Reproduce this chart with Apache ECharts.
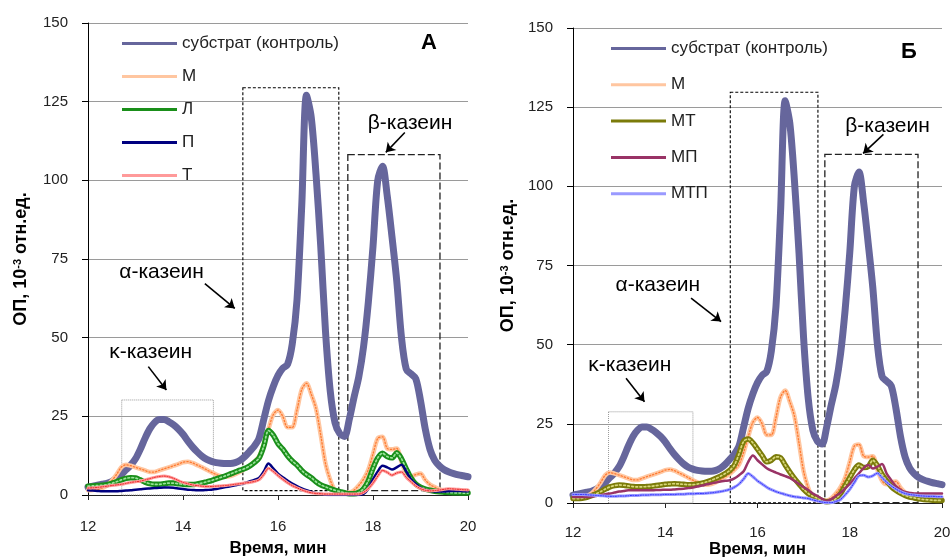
<!DOCTYPE html>
<html><head><meta charset="utf-8">
<script src="https://cdn.jsdelivr.net/npm/echarts@6.0.0/dist/echarts.min.js"></script>
<style>html,body{margin:0;padding:0;background:#fff}#c{width:952px;height:558px}</style>
</head><body><div id="c"></div>
<script>
// time grid (min), 12.0 .. 20.0 step 0.1
const times = Array.from({length: 81}, (_, i) => +(12 + i * 0.1).toFixed(1));
const xTicks = [12, 14, 16, 18, 20];
const yTicks = [0, 25, 50, 75, 100, 125, 150];

// substrate (control) – same in both panels
const control = [2.5,2.8,3.1,3.4,3.7,4.3,5.3,6.5,8.0,9.5,
  11.5,14.5,18.0,21.0,23.0,24.0,24.0,23.3,22.3,21.0,
  19.3,17.2,15.3,13.7,12.3,11.3,10.7,10.3,10.1,10.0,
  10.0,10.3,11.0,12.2,13.8,15.5,18.0,24.0,30.0,34.5,
  38.0,40.3,41.5,48.0,62.0,92.0,127.0,120.0,102.0,79.0,
  52.0,33.0,23.0,19.5,18.6,24.0,31.0,37.5,47.0,61.0,
  79.0,100.0,104.5,95.0,82.0,68.0,50.0,40.0,38.5,37.0,
  30.0,21.0,14.5,11.0,9.2,8.0,7.3,6.8,6.4,6.1,5.8];
// М – same in both panels
const seriesM = [1.5,1.6,1.8,2.2,3.0,4.5,6.5,8.8,9.6,9.3,
  8.8,8.3,7.8,7.3,7.3,7.8,8.3,8.8,9.3,9.8,
  10.4,10.6,10.2,9.5,8.8,8.0,7.2,6.5,6.0,5.8,
  6.0,6.6,7.4,8.3,9.2,10.5,12.2,16.0,21.0,25.5,
  27.0,25.0,21.5,21.5,27.0,33.5,35.5,32.0,27.5,19.0,
  10.0,4.8,1.5,0.8,0.7,0.8,1.5,3.0,5.0,8.0,
  13.0,18.0,18.5,14.8,14.5,14.8,10.5,7.0,5.9,6.5,
  6.8,4.8,3.3,2.5,1.8,1.5,1.5,1.4,1.4,1.3,1.3];
// Panel A
const seriesL = [2.8,2.9,3.0,3.1,3.3,3.7,4.2,4.8,5.3,5.5,
  5.4,4.8,4.1,3.6,3.4,3.4,3.6,3.8,3.8,3.6,
  3.4,3.3,3.3,3.5,3.8,4.2,4.6,5.1,5.6,6.1,
  6.7,7.3,7.9,8.4,9.2,10.3,11.7,15.5,20.5,19.0,
  16.3,14.6,12.5,10.8,9.5,7.8,6.5,5.5,4.2,3.2,
  2.6,2.0,1.5,1.1,0.7,0.4,0.4,0.8,2.0,4.5,
  8.5,11.8,13.3,12.2,11.8,13.4,11.5,8.3,5.4,3.5,
  2.5,1.9,1.5,1.2,1.0,0.9,0.8,0.7,0.7,0.6,0.6];
const seriesP = [1.5,1.4,1.3,1.2,1.2,1.2,1.2,1.3,1.4,1.5,
  1.7,1.8,2.0,2.1,2.2,2.3,2.4,2.4,2.3,2.1,
  1.9,1.7,1.6,1.5,1.5,1.6,1.7,1.9,2.2,2.5,
  2.8,3.1,3.4,3.8,4.3,4.8,5.4,7.5,10.0,8.5,
  6.8,5.6,4.6,3.6,2.8,2.1,1.5,1.0,0.6,0.3,
  0.1,0,0,0,0,0,0,0,0.3,2.0,
  5.0,7.5,9.3,8.8,8.1,8.8,9.6,7.5,5.0,3.5,
  2.3,1.6,1.3,1.1,1.1,1.1,1.2,1.3,1.3,1.2,1.2];
const seriesT = [2.2,2.3,2.4,2.6,2.8,3.0,3.2,3.4,3.7,4.0,
  4.2,4.4,4.8,5.2,5.6,5.9,6.0,5.8,5.3,4.6,
  4.0,3.6,3.2,3.0,2.8,2.7,2.7,2.8,2.9,3.0,
  3.2,3.4,3.6,3.8,4.0,4.3,4.8,6.5,8.5,7.5,
  6.2,5.0,3.9,3.0,2.3,1.6,1.1,0.7,0.5,0.4,
  0.3,0.3,0.3,0.3,0.3,0.3,0.3,0.3,0.8,2.0,
  3.8,6.0,7.8,7.2,6.3,7.0,7.3,5.6,4.2,2.9,
  2.0,1.5,1.3,1.4,1.6,1.8,2.0,1.9,1.8,1.7,1.6];
// Panel B
const seriesMT = [1.4,1.4,1.5,1.8,2.3,2.9,3.6,4.4,5.1,5.5,
  5.7,5.6,5.4,5.2,5.1,5.1,5.2,5.3,5.5,5.7,
  5.9,6.0,6.1,6.0,5.9,5.8,5.8,6.0,6.3,6.7,
  7.2,7.8,8.5,9.3,10.3,12.0,15.5,19.5,20.2,19.0,
  17.0,15.0,13.0,13.5,14.6,14.3,12.0,9.8,7.8,6.0,
  4.3,3.0,2.1,1.5,0.8,0.4,0.6,1.4,3.0,5.5,
  8.0,10.5,12.0,11.2,11.5,13.5,11.8,9.0,7.0,5.2,
  4.0,3.1,2.4,1.9,1.6,1.3,1.1,1.0,0.9,0.8,0.8];
const seriesMP = [1.9,1.9,1.9,1.9,2.0,2.2,2.5,2.8,3.0,3.3,
  3.6,3.8,4.0,4.0,4.0,4.0,4.0,4.0,4.1,4.1,
  4.2,4.2,4.3,4.4,4.5,4.7,4.9,5.2,5.5,5.9,
  6.2,6.5,6.8,7.0,7.2,7.8,8.8,10.0,13.0,15.0,
  13.5,12.2,11.0,10.2,9.6,9.0,8.5,7.9,7.0,6.0,
  5.0,4.1,3.0,2.2,1.3,0.6,1.2,2.2,3.2,4.6,
  6.0,7.7,9.4,11.0,12.0,10.9,11.5,12.3,9.3,7.2,
  5.3,4.2,3.5,3.2,3.0,3.0,3.0,3.0,3.0,3.0,3.0];
const seriesMTP = [2.7,2.7,2.7,2.6,2.5,2.4,2.3,2.2,2.1,2.1,
  2.2,2.2,2.3,2.4,2.4,2.5,2.5,2.6,2.6,2.6,
  2.7,2.7,2.7,2.8,2.8,2.9,2.9,3.0,3.0,3.1,
  3.2,3.4,3.6,3.9,4.3,5.0,6.0,7.6,9.3,8.3,
  7.0,6.0,5.0,4.2,3.6,3.1,2.7,2.3,2.0,1.8,
  1.6,1.4,1.0,0.6,0.3,0.1,0.1,0.5,1.1,2.6,
  4.3,6.5,8.6,8.8,8.2,8.6,9.4,8.0,6.6,5.4,
  4.4,3.6,3.0,2.7,2.5,2.3,2.2,2.1,2.1,2.0,2.0];

// annotations (data coordinates): boxes [x1,y1,x2,y2], arrows [x1,y1,x2,y2], labels [x,y,text]
const boxesA = [[15.26,129.4,17.28,1.4,'a'],[17.47,108.2,19.41,1.4,'b'],[12.71,30.2,14.64,0,'k']];
const boxesB = [[15.41,129.7,17.31,0.1,'a'],[17.46,110.1,19.48,0.1,'b'],[12.77,28.8,14.60,0,'k']];
const arrowsA = [[18.67,115.2,18.27,108.9],[14.46,67.2,15.09,59.3],[13.27,40.8,13.65,33.4]];
const arrowsB = [[18.73,116.4,18.29,110.4],[14.56,64.7,15.21,57.3],[13.15,39.4,13.55,32.0]];
const labelsA = [[18.78,118.3,'β-казеин'],[13.55,70.9,'α-казеин'],[13.32,45.3,'κ-казеин']];
const labelsB = [[18.82,119.0,'β-казеин'],[13.84,68.7,'α-казеин'],[13.23,43.4,'κ-казеин']];

const NAME_CTRL = 'субстрат (контроль)';
const FONT = 'Liberation Sans, Arial, sans-serif';

const pairs = v => times.map((t, i) => [t, v[i]]);

function line(name, vals, gi, color, width, type, z, extra) {
  return Object.assign({
    name, type: 'line', xAxisIndex: gi, yAxisIndex: gi,
    data: pairs(vals), symbol: 'none', showSymbol: false, smooth: 0.3, silent: true, z: z,
    lineStyle: {color, width, type: type || 'solid', cap: 'round', join: 'round'},
    itemStyle: {color}, emphasis: {disabled: true}
  }, extra || {});
}

const boxStyle = {
  a: {color: 'rgba(0,0,0,0)', borderColor: '#000', borderWidth: 1.1, borderType: [3, 2]},
  b: {color: 'rgba(0,0,0,0)', borderColor: '#222', borderWidth: 1.3, borderType: [7, 3]},
  k: {color: 'rgba(0,0,0,0)', borderColor: '#999', borderWidth: 1, borderType: [1, 1]}
};

function annot(boxes, arrows, labels) {
  return {
    markArea: {silent: true, label: {show: false},
      data: boxes.map(b => [{xAxis: b[0], yAxis: b[1], itemStyle: boxStyle[b[4]]}, {xAxis: b[2], yAxis: b[3]}])},
    markLine: {silent: true, symbol: ['none', 'arrow'], symbolSize: 9, animation: false,
      lineStyle: {color: '#000', width: 1.6, type: 'solid'}, label: {show: false},
      data: arrows.map(a => [{coord: [a[0], a[1]]}, {coord: [a[2], a[3]]}])},
    markPoint: {silent: true, symbol: 'rect', symbolSize: 1, itemStyle: {color: 'rgba(0,0,0,0)'},
      label: {show: true, position: 'inside', color: '#000', fontSize: 21, fontFamily: FONT, formatter: p => p.name},
      data: labels.map(l => ({name: l[2], coord: [l[0], l[1]]}))}
  };
}

function xAx(gi, gap, margin) {
  return {
    gridIndex: gi, type: 'value', min: xTicks[0], max: xTicks[xTicks.length - 1], interval: xTicks[1] - xTicks[0],
    axisLine: {show: true, onZero: false, lineStyle: {color: '#222', width: 1}},
    axisTick: {show: true, length: 5, lineStyle: {color: '#222'}},
    splitLine: {show: false},
    axisLabel: {fontSize: 15, color: '#222', margin: margin, fontFamily: FONT},
    name: 'Время, мин', nameLocation: 'middle', nameGap: gap, nameMoveOverlap: false,
    nameTextStyle: {fontSize: 17, fontWeight: 'bold', color: '#000', fontFamily: FONT}
  };
}
function yAx(gi, gap) {
  return {
    gridIndex: gi, type: 'value', min: yTicks[0], max: yTicks[yTicks.length - 1], interval: yTicks[1] - yTicks[0],
    axisLine: {show: true, lineStyle: {color: '#000', width: 1}},
    axisTick: {show: true, length: 6, lineStyle: {color: '#000'}},
    splitLine: {show: true, lineStyle: {color: '#9a9a9a', width: 1}},
    axisLabel: {fontSize: 15, color: '#222', margin: 20, fontFamily: FONT},
    name: 'ОП, 10{s|-3} отн.ед.', nameLocation: 'middle', nameGap: gap, nameRotate: 90, nameMoveOverlap: false,
    nameTextStyle: {fontSize: 18, fontWeight: 'bold', color: '#000', fontFamily: FONT,
      rich: {s: {fontSize: 11, fontWeight: 'bold', color: '#000', fontFamily: FONT, verticalAlign: 'top'}}}
  };
}

const legendBase = {
  orient: 'vertical', itemWidth: 55, itemHeight: 3, icon: 'rect',
  textStyle: {fontSize: 17, color: '#222', fontFamily: FONT},
  selectedMode: false
};

const chart = echarts.init(document.getElementById('c'), null, {renderer: 'canvas'});
chart.setOption({
  animation: false,
  backgroundColor: '#fff',
  grid: [
    {left: 88, top: 23, width: 380, height: 472, outerBoundsMode: 'none', containLabel: false},
    {left: 573, top: 28, width: 369, height: 475, outerBoundsMode: 'none', containLabel: false}
  ],
  xAxis: [xAx(0, 45, 24), xAx(1, 38, 22)],
  yAxis: [yAx(0, 58), yAx(1, 56)],
  legend: [
    Object.assign({}, legendBase, {left: 117, top: 30, itemGap: 16,
      data: [NAME_CTRL, 'М', 'Л', 'П', 'Т']}),
    Object.assign({}, legendBase, {left: 606, top: 35, itemGap: 19.3,
      data: [NAME_CTRL, 'М', 'МТ', 'МП', 'МТП']})
  ],
  graphic: [
    {type: 'text', x: 429, y: 43, style: {text: 'А', font: 'bold 22px ' + FONT, fill: '#000', align: 'center', verticalAlign: 'middle'}},
    {type: 'text', x: 909, y: 52, style: {text: 'Б', font: 'bold 22px ' + FONT, fill: '#000', align: 'center', verticalAlign: 'middle'}}
  ],
  series: [
    // Panel A
    line(NAME_CTRL, control, 0, '#66669c', 7, 'solid', 2, annot(boxesA, arrowsA, labelsA)),
    line('М', seriesM, 0, '#ffc6a0', 4.5, 'solid', 3),
    line('М·a', seriesM, 0, '#ff7a30', 1.3, [1.3, 2], 3),
    line('Л', seriesL, 0, '#1a8f1a', 5.5, 'solid', 4),
    line('Л·', seriesL, 0, '#9be39b', 1.7, [1.7, 2.4], 4),
    line('П', seriesP, 0, '#000080', 2.5, 'solid', 5),
    line('Т', seriesT, 0, '#ff9a9a', 3, 'solid', 6),
    line('Т·', seriesT, 0, '#e82020', 1, [1, 1.5], 6),
    // Panel B
    line(NAME_CTRL, control, 1, '#66669c', 7, 'solid', 2, annot(boxesB, arrowsB, labelsB)),
    line('М', seriesM, 1, '#ffc6a0', 4.5, 'solid', 3),
    line('М·b', seriesM, 1, '#ff7a30', 1.3, [1.3, 2], 3),
    line('МТ', seriesMT, 1, '#7b7b0a', 5.5, 'solid', 4),
    line('МТ·', seriesMT, 1, '#d8d87a', 1.7, [1.7, 2.4], 4),
    line('МП', seriesMP, 1, '#993366', 2.5, 'solid', 5),
    line('МТП', seriesMTP, 1, '#9a9aff', 3, 'solid', 6),
    line('МТП·', seriesMTP, 1, '#2a2aff', 1, [1, 1.5], 6)
  ]
});
</script>
</body></html>
